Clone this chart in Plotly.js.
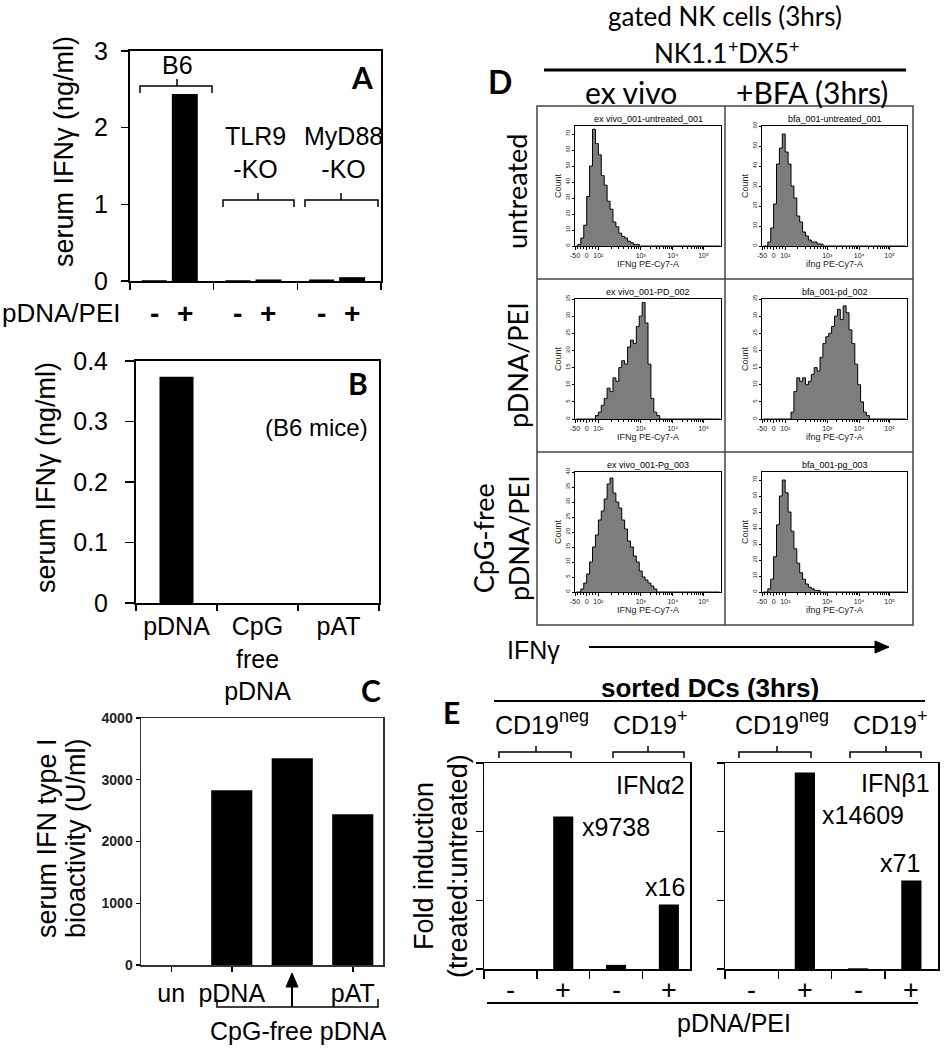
<!DOCTYPE html>
<html><head><meta charset="utf-8">
<script src="https://cdn.plot.ly/plotly-3.0.1.min.js"></script>
<style>html,body{margin:0;padding:0;background:#fff}#chart{width:951px;height:1050px}</style>
</head><body><div id="chart"></div>
<script>
// ---------------- DATA ----------------
// Panel A: serum IFNγ (ng/ml)
const aGroups = ['B6', 'TLR9-KO', 'MyD88-KO'];
const aGroupLabels = ['B6', 'TLR9<br>-KO', 'MyD88<br>-KO'];
const aMinus = [0.01, 0.01, 0.02];
const aPlus = [2.44, 0.02, 0.05];

// Panel B: serum IFNγ (ng/ml), B6 mice
const bCategories = ['pDNA', 'CpG<br>free<br>pDNA', 'pAT'];
const bValues = [0.374, 0, 0];

// Panel C: serum IFN type I bioactivity (U/ml)
const cCategories = ['un', 'pDNA', 'CpG-free', 'pAT'];
const cTickVals = ['un', 'pDNA', 'pAT'];
const cValues = [0, 2830, 3350, 2440];

// Panel D: flow histograms (display channel 0-1000, counts)
const dBins = [10,30,50,70,90,110,130,150,170,190,210,230,250,270,290,310,330,350,370,390,
  410,430,450,470,490,510,530,550,570,590,610,630,650,670,690,710,730,750,770,790,
  810,830,850,870,890,910,930,950,970,990];
const histExVivoUntreated = [0,1,5,13,31,50,73,64,57,44,38,28,23,15,12,8,6,5,3,2,1,1,0,0,0,
  0,0,0,0,0,0,0,0,0,0,0,0,0,0,0,0,0,0,0,0,0,0,0,0,0];
const histBfaUntreated = [0,0,2,9,21,41,49,56,47,41,30,24,15,12,7,5,3,2,2,1,1,0,0,0,0,
  0,0,0,0,0,0,0,0,0,0,0,0,0,0,0,0,0,0,0,0,0,0,0,0,0];
const histExVivoPD = [0,0,0,0,0,0,0,1,2,4,6,9,8,12,11,15,17,16,21,23,22,27,30,34,28,
  16,6,2,1,0,0,0,0,0,0,0,0,0,0,0,0,0,0,0,0,0,0,0,0,0];
const histBfaPD = [0,0,0,0,0,0,0,0,0,0,2,8,12,11,12,10,11,13,15,14,18,22,24,25,27,
  30,32,29,33,31,26,22,16,10,5,2,1,0,0,0,0,0,0,0,0,0,0,0,0,0];
const histExVivoPg = [0,0,1,3,6,10,15,19,24,27,31,36,38,33,30,28,24,21,17,15,12,10,7,5,4,
  3,2,1,0,0,0,0,0,0,0,0,0,0,0,0,0,0,0,0,0,0,0,0,0,0];
const histBfaPg = [0,0,2,8,22,42,60,70,62,50,38,27,18,12,8,5,3,2,1,1,0,0,0,0,0,
  0,0,0,0,0,0,0,0,0,0,0,0,0,0,0,0,0,0,0,0,0,0,0,0,0];
const dHistograms = [histExVivoUntreated, histBfaUntreated, histExVivoPD, histBfaPD, histExVivoPg, histBfaPg];
const dHistTitles = ['ex vivo_001-untreated_001', 'bfa_001-untreated_001', 'ex vivo_001-PD_002',
  'bfa_001-pd_002', 'ex vivo_001-Pg_003', 'bfa_001-pg_003'];
const dHistYMax = [75, 60, 35, 35, 40, 75];
const dHistYStep = [10, 10, 5, 5, 5, 10];
const dXTitles = ['IFNg PE-Cy7-A', 'ifng PE-Cy7-A'];
const dXTickText = ['-50', '0', '10\u00B2', '10\u00B3', '10\u2074', '10\u2075'];
const dRowLabels = ['untreated', 'pDNA/PEI', 'CpG-free<br>pDNA/PEI'];
const dColLabels = ['ex vivo', '+BFA (3hrs)'];

// Panel E: fold induction (treated:untreated)
const eCategories = ['CD19neg -', 'CD19neg +', 'CD19pos -', 'CD19pos +'];
const eSigns = ['-', '+', '-', '+'];
const eIFNa2 = [0, 2.22, 0.06, 0.94];
const eIFNb1 = [0, 2.86, 0.01, 1.29];

// ---------------- HELPERS ----------------
const FA = 'Liberation Sans, Arial, sans-serif';
const FL = 'Lato, Carlito, sans-serif';
const W = 951, H = 1050;
const X = v => v / W, Y = v => 1 - v / H;
const dx = (a, b) => [X(a), X(b)];
const dy = (top, bottom) => [Y(bottom), Y(top)];
const annotations = [], shapes = [], traces = [];
const ctx = document.createElement('canvas').getContext('2d');
function textW(t, size, family, bold) { ctx.font = `${bold ? 'bold ' : ''}${size}px ${family}`; return ctx.measureText(t).width; }
function T(x, y, text, size, family, extra) {
  annotations.push(Object.assign({xref: 'paper', yref: 'paper', x: X(x), y: Y(y), text: text,
    showarrow: false, xanchor: 'center', yanchor: 'middle',
    font: {family: family || FA, size: size, color: '#000'}}, extra || {}));
}
// text with a raised superscript part, centred on x (drawn as separate real texts)
function supT(x, y, parts, size, family, raise) {
  const sSize = Math.round(size * 0.7);
  const widths = parts.map((p, i) => textW(p, i % 2 ? sSize : size, family));
  let left = x - widths.reduce((a, b) => a + b, 0) / 2;
  parts.forEach((p, i) => {
    const sup = i % 2 === 1;
    T(left, sup ? y - size * (raise || 0.36) : y, p, sup ? sSize : size, family, {xanchor: 'left'});
    left += widths[i];
  });
}
function L(x0, y0, x1, y1, w, col) {
  shapes.push({type: 'line', xref: 'paper', yref: 'paper', x0: X(x0), y0: Y(y0), x1: X(x1), y1: Y(y1),
    line: {color: col || '#000', width: w || 1.5}});
}
function P(path, w, fill) {
  shapes.push({type: 'path', xref: 'paper', yref: 'paper', path: path,
    line: {color: '#000', width: w || 1.5}, fillcolor: fill || 'rgba(0,0,0,0)'});
}
const pt = (x, y) => `${X(x)},${Y(y)}`;
function bracket(x0, x1, y, cx, d, w) {
  cx = (cx == null) ? (x0 + x1) / 2 : cx; d = d || 7;
  P(`M${pt(x0, y + d)} L${pt(x0, y)} L${pt(x1, y)} L${pt(x1, y + d)} M${pt(cx, y)} L${pt(cx, y - d)}`, w);
}
const base = {showgrid: false, zeroline: false, fixedrange: true, showline: true, mirror: true,
  linecolor: '#000', tickcolor: '#000'};
const ax = o => Object.assign({}, base, o);
const layout = {width: W, height: H, margin: {l: 0, r: 0, t: 0, b: 0}, paper_bgcolor: '#fff',
  plot_bgcolor: 'rgba(0,0,0,0)', showlegend: false, barmode: 'overlay',
  font: {family: FA, color: '#000'}};

// ---------------- PANEL A ----------------
traces.push({type: 'bar', x: aGroups, y: aMinus, xaxis: 'x', yaxis: 'y', width: 0.3, offset: -0.36,
  marker: {color: '#000'}, hoverinfo: 'skip'});
traces.push({type: 'bar', x: aGroups, y: aPlus, xaxis: 'x', yaxis: 'y', width: 0.31, offset: 0,
  marker: {color: '#000'}, hoverinfo: 'skip'});
layout.xaxis = ax({domain: dx(130, 381), anchor: 'y', type: 'category', categoryorder: 'array',
  categoryarray: aGroups, range: [-0.5, 2.5], tickson: 'boundaries', ticks: 'outside', ticklen: 7,
  tickwidth: 1.5, showticklabels: false, linewidth: 2});
layout.yaxis = ax({domain: dy(51, 281), anchor: 'x', range: [0, 3.001], dtick: 1, tick0: 0,
  ticks: 'outside', ticklen: 7, tickwidth: 1.5, tickfont: {family: FA, size: 25},
  ticklabelstandoff: 8, linewidth: 2});
T(64, 152, 'serum IFN\u03B3 (ng/ml)', 27, FA, {textangle: -90});
T(61, 313, 'pDNA/PEI', 26);
aGroups.forEach((g, i) => {
  annotations.push({xref: 'x', yref: 'paper', x: i - 0.21, y: Y(313), text: '<b>-</b>', showarrow: false,
    xanchor: 'center', yanchor: 'middle', font: {family: FA, size: 28, color: '#000'}});
  annotations.push({xref: 'x', yref: 'paper', x: i + 0.155, y: Y(313), text: '<b>+</b>', showarrow: false,
    xanchor: 'center', yanchor: 'middle', font: {family: FA, size: 28, color: '#000'}});
});
T(177, 65, aGroupLabels[0], 25);
bracket(140, 212, 86, 177, 7);
T(255, 152, aGroupLabels[1], 25);
bracket(223, 294, 200, 258, 7);
T(343, 152, aGroupLabels[2], 25);
bracket(305, 378, 200, 341, 7);
T(362, 77, '<b>A</b>', 30, FL);

// ---------------- PANEL B ----------------
traces.push({type: 'bar', x: bCategories, y: bValues, xaxis: 'x2', yaxis: 'y2', width: 0.42,
  marker: {color: '#000'}, hoverinfo: 'skip'});
layout.xaxis2 = ax({domain: dx(136, 379), anchor: 'y2', type: 'category', categoryorder: 'array',
  categoryarray: bCategories, range: [-0.5, 2.5], tickson: 'boundaries', ticks: 'outside', ticklen: 6,
  tickwidth: 1.5, tickfont: {family: FA, size: 25}, linewidth: 2, ticklabelstandoff: 0});
layout.yaxis2 = ax({domain: dy(361, 603), anchor: 'x2', range: [0, 0.4001], dtick: 0.1, tick0: 0,
  ticks: 'outside', ticklen: 9, tickwidth: 1.5, tickfont: {family: FA, size: 25},
  ticklabelstandoff: 12, linewidth: 2});
T(46, 478, 'serum IFN\u03B3 (ng/ml)', 27, FA, {textangle: -90});
T(370, 428, '(B6 mice)', 24, FA, {xanchor: 'right'});
T(358, 383, '<b>B</b>', 30, FL);

// ---------------- PANEL C ----------------
traces.push({type: 'bar', x: cCategories, y: cValues, xaxis: 'x3', yaxis: 'y3', width: 0.68,
  marker: {color: '#000'}, hoverinfo: 'skip'});
layout.xaxis3 = ax({domain: dx(141, 383), anchor: 'y3', type: 'category', categoryorder: 'array',
  categoryarray: cCategories, range: [-0.5, 3.5], tickvals: cTickVals, ticktext: cTickVals,
  ticks: 'outside', ticklen: 5, tickwidth: 1.5, tickfont: {family: FA, size: 25}, linewidth: 1.5,
  linecolor: '#333'});
layout.yaxis3 = ax({domain: dy(718, 965), anchor: 'x3', range: [0, 4000.5], dtick: 1000, tick0: 0,
  ticks: 'outside', ticklen: 4, tickwidth: 1.2, tickfont: {family: 'Liberation Sans Narrow, Liberation Sans, Arial', size: 14, weight: 'bold', color: '#222'},
  linewidth: 1.5, linecolor: '#333'});
T(47, 838, 'serum IFN type I', 27, FA, {textangle: -90});
T(76, 838, 'bioactivity (U/ml)', 27, FA, {textangle: -90});
L(292, 1007, 292, 985, 2);
P(`M${pt(292, 973)} L${pt(286, 987)} L${pt(298, 987)} Z`, 1, '#000');
P(`M${pt(217, 999)} L${pt(217, 1007)} L${pt(378, 1007)} L${pt(378, 999)}`, 1.5);
T(298, 1031, 'CpG-free pDNA', 25);
T(371, 690, '<b>C</b>', 30, FL);

// ---------------- PANEL D ----------------
T(725, 16, 'gated NK cells (3hrs)', 26, FL);
supT(725, 53, ['NK1.1', '+', 'DX5', '+'], 26, FL, 0.28);
L(544, 70, 906, 70, 3);
T(500, 81, '<b>D</b>', 32, FL);
T(631, 92, dColLabels[0], 30, FL);
T(812, 92, dColLabels[1], 30, FL);
shapes.push({type: 'rect', xref: 'paper', yref: 'paper', x0: X(537), x1: X(913), y0: Y(106), y1: Y(625),
  line: {color: '#444', width: 1.5}});
L(725, 106, 725, 625, 1.5, '#444');
L(537, 279, 913, 279, 1.5, '#444');
L(537, 452, 913, 452, 1.5, '#444');
T(517, 192, dRowLabels[0], 27, FL, {textangle: -90});
T(517, 365, dRowLabels[1], 27, FL, {textangle: -90});
T(501, 538, dRowLabels[2], 27, FL, {textangle: -90});
const colX = [[575, 721], [762, 907]];
const dMinor = [20,40,60,100,120,140,247,298,335,363,386,405,422,437,516,555,582,604,621,636,649,660,
  733,770,796,817,833,847,860,870];
dHistograms.forEach((h, k) => {
  const r = Math.floor(k / 2), c = k % 2, n = 4 + k;
  const top = 106 + 173 * r;
  const [x0, x1] = colX[c];
  traces.push({type: 'scatter', mode: 'lines', x: dBins, y: h, xaxis: 'x' + n, yaxis: 'y' + n,
    line: {shape: 'hvh', color: '#000', width: 1}, fill: 'tozeroy', fillcolor: '#7d7d7d', hoverinfo: 'skip'});
  layout['xaxis' + n] = ax({domain: dx(x0, x1), anchor: 'y' + n, range: [0, 1000],
    tickvals: [0, 80, 160, 450, 670, 880], ticktext: dXTickText, ticks: 'outside', ticklen: 3,
    tickwidth: 1, tickfont: {family: FA, size: 7, color: '#222'}, linewidth: 1,
    minor: {tickvals: dMinor, ticks: 'outside', ticklen: 2, tickcolor: '#000'},
    title: {text: dXTitles[c], font: {family: FA, size: 9, color: '#222'}, standoff: 1}});
  layout['yaxis' + n] = ax({domain: dy(top + 20, top + 140), anchor: 'x' + n, range: [0, dHistYMax[k]],
    dtick: dHistYStep[k], ticks: 'outside', ticklen: 2, tickwidth: 1, tickangle: -90,
    tickfont: {family: FA, size: 6, color: '#222'}, linewidth: 1,
    title: {text: 'Count', font: {family: FA, size: 9, color: '#222'}, standoff: 1}});
  T((x0 + x1) / 2, top + 13, dHistTitles[k], 9, FA);
});
T(533, 650, 'IFN\u03B3', 25);
L(589, 647, 876, 647, 2);
P(`M${pt(889, 647)} L${pt(875, 641)} L${pt(875, 653)} Z`, 1, '#000');

// ---------------- PANEL E ----------------
T(710, 688, '<b>sorted DCs (3hrs)</b>', 26);
L(494, 701, 925, 701, 2);
T(451, 712, '<b>E</b>', 30, FL);
supT(540, 725, ['CD19', 'neg'], 25, FA);
supT(648, 725, ['CD19', '+'], 25, FA);
supT(780, 725, ['CD19', 'neg'], 25, FA);
supT(888, 725, ['CD19', '+'], 25, FA);
bracket(499, 571, 752, 536, 6);
bracket(613, 684, 752, 648, 6);
bracket(739, 811, 752, 777, 6);
bracket(850, 921, 752, 886, 6);
traces.push({type: 'bar', x: eCategories, y: eIFNa2, xaxis: 'x10', yaxis: 'y10', width: 0.38,
  marker: {color: '#000'}, hoverinfo: 'skip'});
traces.push({type: 'bar', x: eCategories, y: eIFNb1, xaxis: 'x11', yaxis: 'y11', width: 0.38,
  marker: {color: '#000'}, hoverinfo: 'skip'});
const eX = {type: 'category', categoryorder: 'array', categoryarray: eCategories, tickson: 'boundaries',
  ticks: 'outside', ticklen: 8, tickwidth: 1.5, showticklabels: false, linewidth: 1.5};
const eY = {range: [0, 3], dtick: 1, tick0: 0, ticks: 'outside', ticklen: 7, tickwidth: 1.5,
  showticklabels: false, linewidth: 1.5};
layout.xaxis10 = ax(Object.assign({domain: dx(484, 690), anchor: 'y10', range: [-0.5, 3.4]}, eX));
layout.yaxis10 = ax(Object.assign({domain: dy(763, 969), anchor: 'x10'}, eY));
layout.xaxis11 = ax(Object.assign({domain: dx(725, 938), anchor: 'y11', range: [-0.5, 3.5]}, eX));
layout.yaxis11 = ax(Object.assign({domain: dy(763, 969), anchor: 'x11'}, eY));
eSigns.forEach((s, i) => {
  ['x10', 'x11'].forEach(xr => annotations.push({xref: xr, yref: 'paper', x: i, y: Y(990), text: s,
    showarrow: false, xanchor: 'center', yanchor: 'middle', font: {family: FA, size: 27, color: '#000'}}));
});
T(687, 785, 'IFN\u03B12', 25, FA, {xanchor: 'right'});
T(932, 783, 'IFN\u03B21', 25, FA, {xanchor: 'right'});
T(580, 827, 'x9738', 25, FA, {xanchor: 'left'});
T(665, 887, 'x16', 25);
T(820, 815, 'x14609', 25, FA, {xanchor: 'left'});
T(900, 863, 'x71', 25);
T(424, 866, 'Fold induction', 27, FA, {textangle: -90});
T(458, 866, '(treated:untreated)', 27, FA, {textangle: -90});
L(487, 1003, 918, 1003, 2);
T(734, 1023, 'pDNA/PEI', 25);

layout.annotations = annotations;
layout.shapes = shapes;
Plotly.newPlot('chart', traces, layout, {displayModeBar: false, staticPlot: true});
</script>
</body></html>
